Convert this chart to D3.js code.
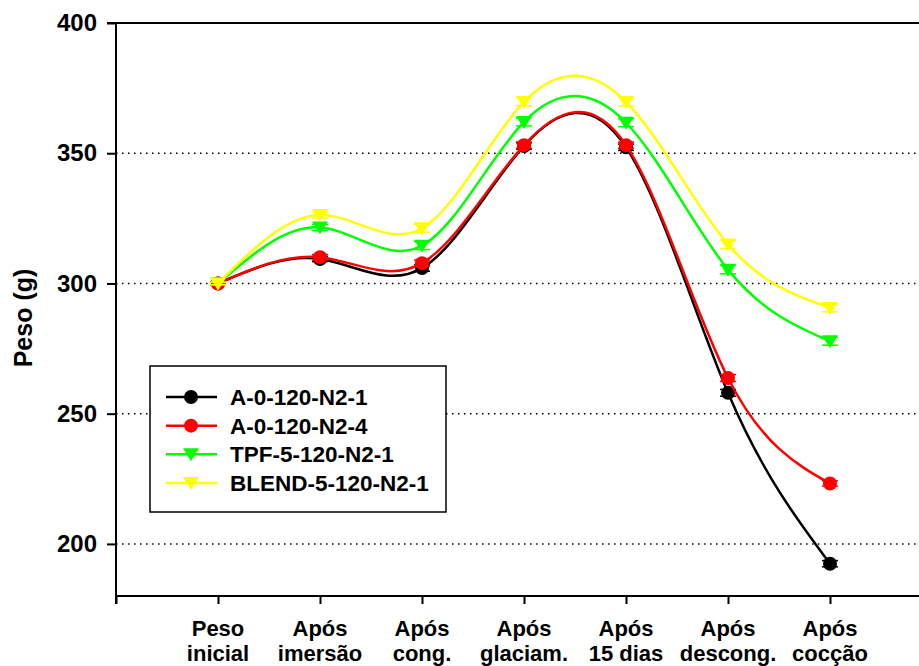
<!DOCTYPE html>
<html>
<head>
<meta charset="utf-8">
<script src="https://cdn.jsdelivr.net/npm/d3@7"></script>
<style>
  html, body { margin: 0; padding: 0; background: #fff; }
  svg { display: block; font-family: "Liberation Sans", Arial, sans-serif; font-weight: bold; }
</style>
</head>
<body>
<svg id="chart" width="919" height="666"></svg>
<script>
// Stages of processing (x categories), two-line labels
const stages = [
  ["Peso", "inicial"],
  ["Após", "imersão"],
  ["Após", "cong."],
  ["Após", "glaciam."],
  ["Após", "15 dias"],
  ["Após", "descong."],
  ["Após", "cocção"]
];

// Mean weight (g) per stage for each treatment
const seriesNames = ["A-0-120-N2-1", "A-0-120-N2-4", "TPF-5-120-N2-1", "BLEND-5-120-N2-1"];
const blackValues  = [300, 309.4, 305.9, 352.8, 352.3, 258.0, 192.4];
const redValues    = [300, 310.1, 307.8, 353.1, 353.1, 263.7, 223.2];
const greenValues  = [300, 321.5, 314.5, 362.0, 361.7, 305.3, 277.8];
const yellowValues = [300, 326.3, 321.2, 369.7, 369.7, 315.0, 290.6];

// Standard deviations (g)
const blackErr  = [0.5, 1.0, 1.2, 1.2, 1.2, 1.3, 1.2];
const redErr    = [0.5, 1.0, 1.2, 1.2, 1.2, 1.3, 1.0];
const greenErr  = [0.5, 1.2, 1.5, 1.5, 1.5, 1.6, 1.5];
const yellowErr = [0.5, 1.2, 1.5, 1.5, 1.5, 1.6, 1.5];

const yTicks = [200, 250, 300, 350, 400];

const series = [
  { name: seriesNames[0], values: blackValues,  err: blackErr,  color: "#000000", shape: "circle" },
  { name: seriesNames[1], values: redValues,    err: redErr,    color: "#ff0000", shape: "circle" },
  { name: seriesNames[2], values: greenValues,  err: greenErr,  color: "#00ff00", shape: "triangle" },
  { name: seriesNames[3], values: yellowValues, err: yellowErr, color: "#ffff00", shape: "triangle" }
];

const svg = d3.select("#chart");
const plotLeft = 116, plotRight = 932, plotTop = 23, plotBottom = 596;

const x = d3.scaleLinear().domain([0, stages.length + 1]).range([plotLeft, plotRight]);
const y = d3.scaleLinear().domain([180, 400]).range([plotBottom, plotTop]);

// Dotted horizontal grid lines
svg.append("g")
  .selectAll("line")
  .data(yTicks.filter(t => t < 400))
  .join("line")
  .attr("x1", plotLeft).attr("x2", plotRight)
  .attr("y1", d => y(d)).attr("y2", d => y(d))
  .attr("stroke", "#000")
  .attr("stroke-width", 1.5)
  .attr("stroke-dasharray", "1.5,4.5");

// Top frame line
svg.append("line")
  .attr("x1", plotLeft - 9).attr("x2", plotRight)
  .attr("y1", y(400)).attr("y2", y(400))
  .attr("stroke", "#000").attr("stroke-width", 2);

// Y axis
const yAxis = svg.append("g")
  .attr("transform", `translate(${plotLeft},0)`)
  .call(d3.axisLeft(y).tickValues(yTicks).tickSize(9).tickPadding(10));
yAxis.select(".domain").attr("stroke-width", 2).attr("d", `M0,${plotTop}V${plotBottom + 8}`);
yAxis.selectAll(".tick line").attr("stroke-width", 2);
yAxis.selectAll(".tick text")
  .attr("font-size", 24).attr("font-weight", "bold")
  .attr("font-family", "Liberation Sans, Arial, sans-serif").attr("fill", "#000");

// X axis
const xAxis = svg.append("g")
  .attr("transform", `translate(0,${plotBottom})`)
  .call(d3.axisBottom(x).tickValues(d3.range(0, stages.length + 2)).tickSize(8).tickFormat(""));
xAxis.select(".domain").attr("stroke-width", 2).attr("d", `M${plotLeft},0H${plotRight}`);
xAxis.selectAll(".tick line").attr("stroke-width", 2);

// Two-line stage labels
const labels = svg.append("g")
  .selectAll("text")
  .data(stages)
  .join("text")
  .attr("text-anchor", "middle")
  .attr("font-size", 22)
  .attr("fill", "#000")
  .attr("transform", (d, i) => `translate(${x(i + 1)},0)`);
labels.append("tspan").attr("x", 0).attr("y", 636).text(d => d[0]);
labels.append("tspan").attr("x", 0).attr("y", 661).text(d => d[1]);

// Y axis title
svg.append("text")
  .attr("transform", "translate(32,318) rotate(-90)")
  .attr("text-anchor", "middle")
  .attr("font-size", 25)
  .attr("fill", "#000")
  .text("Peso (g)");

// Marker drawing
const triPath = "M-8,-6L8,-6L0,7Z";
function drawMarker(g, s) {
  if (s.shape === "circle") {
    g.append("circle").attr("r", 7).attr("fill", s.color);
  } else {
    g.append("path").attr("d", triPath).attr("fill", s.color);
  }
}

// Curves, error bars and markers
const line = d3.line()
  .x((d, i) => x(i + 1))
  .y(d => y(d))
  .curve(d3.curveNatural);

series.forEach(s => {
  const g = svg.append("g");
  g.append("path")
    .attr("d", line(s.values))
    .attr("fill", "none")
    .attr("stroke", s.color)
    .attr("stroke-width", 2.5);

  const eb = g.append("g").selectAll("g")
    .data(s.values.map((v, i) => ({ v, e: s.err[i], i })))
    .join("g");
  eb.append("line")
    .attr("x1", d => x(d.i + 1)).attr("x2", d => x(d.i + 1))
    .attr("y1", d => y(d.v - d.e)).attr("y2", d => y(d.v + d.e))
    .attr("stroke", s.color).attr("stroke-width", 1.5);
  [-1, 1].forEach(sign => {
    eb.append("line")
      .attr("x1", d => x(d.i + 1) - 8).attr("x2", d => x(d.i + 1) + 8)
      .attr("y1", d => y(d.v + sign * d.e)).attr("y2", d => y(d.v + sign * d.e))
      .attr("stroke", s.color).attr("stroke-width", 1.5);
  });

  g.append("g").selectAll("g")
    .data(s.values)
    .join("g")
    .attr("transform", (d, i) => `translate(${x(i + 1)},${y(d)})`)
    .each(function () { drawMarker(d3.select(this), s); });
});

// Legend
const legend = svg.append("g");
legend.append("rect")
  .attr("x", 150).attr("y", 366).attr("width", 296).attr("height", 146)
  .attr("fill", "#fff").attr("stroke", "#000").attr("stroke-width", 1.5);
const rowY = d3.scaleLinear().domain([0, 3]).range([397, 483]);
series.forEach((s, i) => {
  const ry = rowY(i);
  legend.append("line")
    .attr("x1", 166).attr("x2", 217).attr("y1", ry).attr("y2", ry)
    .attr("stroke", s.color).attr("stroke-width", 2.5);
  const m = legend.append("g").attr("transform", `translate(191,${ry})`);
  drawMarker(m, s);
  legend.append("text")
    .attr("x", 230).attr("y", ry + 8)
    .attr("font-size", 22.5)
    .attr("fill", "#000")
    .text(s.name);
});
</script>
</body>
</html>
